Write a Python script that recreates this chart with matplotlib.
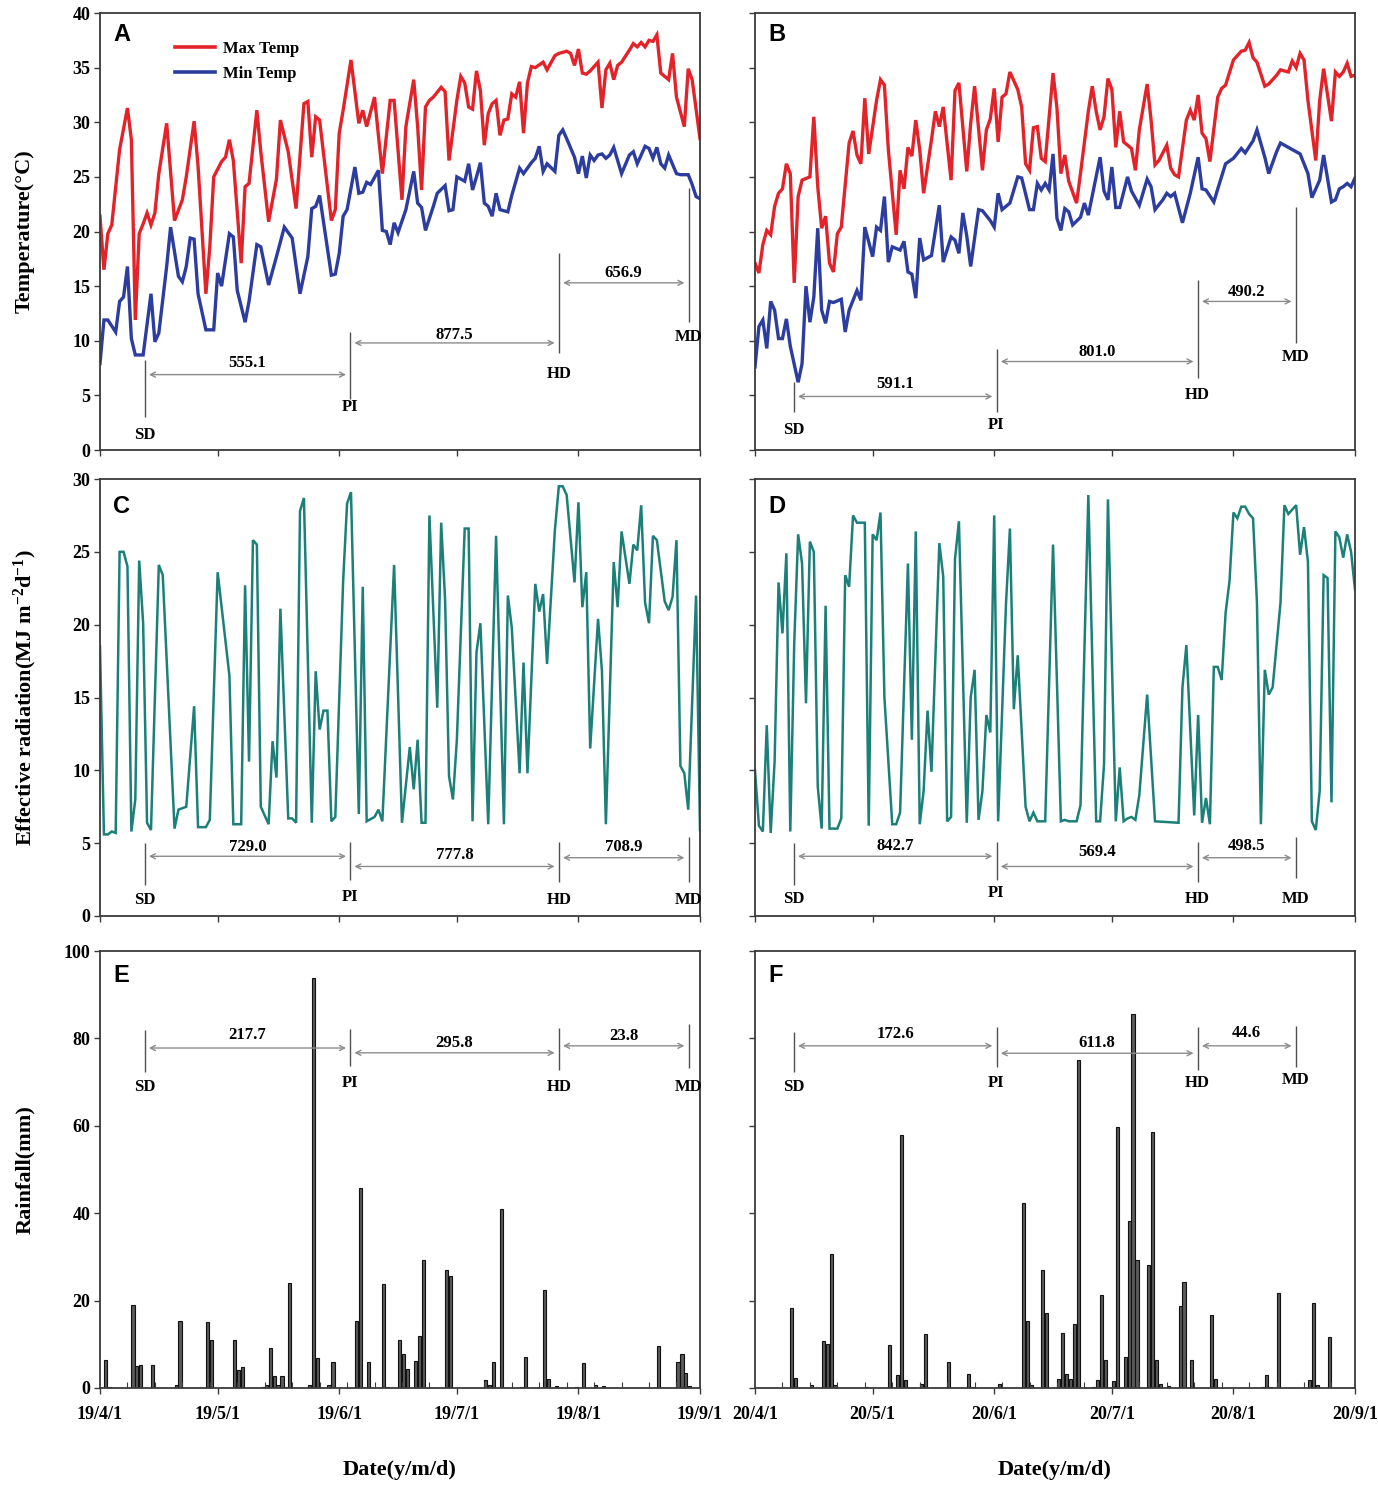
import numpy as np
import pandas as pd
import matplotlib
matplotlib.use('Agg')
import matplotlib.pyplot as plt
import matplotlib.dates as mdates
from matplotlib.lines import Line2D

# ---------------- data (day offset from 1 April, value) ----------------
tmax_2019 = [(0, 21.4), (1, 16.5), (2, 19.8), (3, 20.6), (5, 27.5), (7, 31.3), (8, 28.4), (9, 11.9), (10, 19.8),
             (11, 20.7), (12, 21.7), (13, 20.6), (14, 21.7), (15, 25.3), (17, 29.9), (19, 21.0), (21, 22.9),
             (22, 25.0), (24, 30.1), (25, 26.0), (27, 14.3), (28, 18.6), (29, 25.0), (31, 26.4), (32, 26.8),
             (33, 28.4), (34, 26.5), (36, 17.1), (37, 24.1), (38, 24.4), (40, 31.1), (41, 27.3), (43, 20.9),
             (45, 24.8), (46, 30.2), (48, 27.3), (50, 22.1), (52, 31.7), (53, 31.9), (54, 26.8), (55, 30.5),
             (56, 30.2), (59, 21.0), (60, 22.0), (61, 29.0), (62, 31.1), (64, 35.7), (66, 29.9), (67, 31.1),
             (68, 29.6), (70, 32.3), (72, 25.3), (74, 32.0), (75, 32.0), (77, 22.9), (78, 29.6), (80, 33.9),
             (81, 29.6), (82, 23.8), (83, 31.4), (84, 32.0), (85, 32.3), (87, 33.2), (88, 32.8), (89, 26.5),
             (91, 32.0), (92, 34.2), (93, 33.6), (94, 31.4), (95, 31.2), (96, 34.7), (97, 32.9), (98, 27.9),
             (99, 30.8), (100, 31.7), (101, 32.0), (102, 28.8), (103, 30.2), (104, 30.3), (105, 32.6),
             (106, 32.3), (107, 33.7), (108, 29.0), (109, 33.6), (110, 35.1), (111, 35.0), (113, 35.5),
             (114, 34.8), (116, 36.1), (117, 36.3), (119, 36.5), (120, 36.3), (121, 35.2), (122, 36.7),
             (123, 34.5), (124, 34.4), (125, 34.7), (127, 35.5), (128, 31.3), (129, 34.8), (130, 35.4),
             (131, 33.9), (132, 35.2), (133, 35.5), (135, 36.6), (136, 37.2), (137, 36.9), (138, 37.3),
             (139, 36.9), (140, 37.5), (141, 37.4), (142, 38.0), (143, 34.5), (145, 33.9), (146, 36.3),
             (147, 32.3), (149, 29.6), (150, 34.9), (151, 33.9), (153, 28.5)]
tmin_2019 = [(0, 7.9), (1, 11.9), (2, 11.9), (4, 10.8), (5, 13.6), (6, 14.0), (7, 16.8), (8, 10.2), (9, 8.7),
             (11, 8.7), (13, 14.3), (14, 9.9), (15, 10.7), (17, 16.8), (18, 20.4), (20, 15.9), (21, 15.4),
             (22, 16.8), (23, 19.4), (24, 19.3), (25, 14.3), (27, 11.0), (29, 11.0), (30, 16.2), (31, 15.0),
             (33, 19.8), (34, 19.5), (35, 14.6), (37, 11.7), (38, 13.6), (40, 18.8), (41, 18.6), (43, 15.1),
             (45, 17.7), (47, 20.4), (49, 19.4), (51, 14.3), (53, 17.7), (54, 22.1), (55, 22.3), (56, 23.3),
             (59, 16.0), (60, 16.1), (61, 18.0), (62, 21.4), (63, 22.0), (65, 25.9), (66, 23.5), (67, 23.6),
             (68, 24.5), (69, 24.3), (71, 25.6), (72, 20.1), (73, 20.0), (74, 18.8), (75, 20.8), (76, 19.9),
             (78, 22.0), (80, 25.5), (81, 22.6), (82, 22.2), (83, 20.1), (85, 22.3), (86, 23.5), (88, 24.2),
             (89, 21.9), (90, 22.0), (91, 25.0), (93, 24.6), (94, 26.2), (95, 23.8), (96, 25.0), (97, 26.3),
             (98, 22.6), (99, 22.3), (100, 21.4), (101, 23.5), (102, 22.0), (104, 21.8), (105, 23.3),
             (107, 25.8), (108, 25.3), (110, 26.3), (111, 26.7), (112, 27.8), (113, 25.5), (114, 26.2),
             (116, 25.5), (117, 28.8), (118, 29.3), (119, 28.5), (121, 26.8), (122, 25.3), (123, 26.9),
             (124, 24.9), (125, 27.0), (126, 26.5), (127, 27.0), (128, 27.1), (129, 26.7), (130, 27.0),
             (131, 27.7), (133, 25.3), (135, 27.0), (136, 27.3), (137, 26.2), (139, 27.8), (140, 27.6),
             (141, 26.7), (142, 27.7), (143, 26.2), (144, 25.8), (145, 27.0), (147, 25.3), (148, 25.2),
             (150, 25.2), (151, 24.3), (152, 23.2), (153, 23.0)]
tmax_2020 = [(0, 17.1), (1, 16.2), (2, 18.8), (3, 20.1), (4, 19.7), (5, 22.3), (6, 23.5), (7, 23.9), (8, 26.2),
             (9, 25.3), (10, 15.3), (11, 23.2), (12, 24.7), (14, 25.0), (15, 30.5), (16, 24.1), (17, 20.3),
             (18, 21.4), (19, 17.1), (20, 16.3), (21, 19.8), (22, 20.4), (24, 28.1), (25, 29.2), (26, 27.0),
             (27, 26.2), (28, 32.2), (29, 27.1), (31, 32.0), (32, 33.9), (33, 33.4), (34, 27.5), (36, 19.7),
             (37, 25.6), (38, 23.9), (39, 27.7), (40, 26.9), (41, 30.2), (42, 27.5), (43, 23.5), (45, 28.4),
             (46, 31.0), (47, 29.6), (48, 31.4), (50, 24.7), (51, 32.9), (52, 33.6), (54, 25.5), (55, 29.9),
             (56, 33.3), (58, 25.6), (59, 29.3), (60, 30.3), (61, 33.1), (62, 28.2), (63, 32.3), (64, 32.6),
             (65, 34.6), (67, 33.0), (68, 31.4), (69, 26.2), (70, 25.6), (71, 29.5), (72, 29.6), (73, 26.7),
             (74, 26.4), (76, 34.5), (77, 31.3), (78, 25.3), (79, 27.0), (80, 24.6), (82, 22.6), (83, 25.3),
             (85, 31.0), (86, 33.3), (87, 31.0), (88, 29.3), (89, 30.5), (90, 34.0), (91, 33.0), (92, 27.7),
             (93, 31.0), (94, 28.2), (96, 27.6), (97, 25.6), (98, 29.3), (100, 33.5), (101, 30.2), (102, 26.1),
             (103, 26.5), (105, 27.9), (106, 25.8), (107, 25.2), (108, 25.0), (110, 30.2), (111, 31.1),
             (112, 30.2), (113, 32.5), (114, 29.0), (115, 28.5), (116, 26.4), (118, 32.3), (119, 33.1),
             (120, 33.4), (122, 35.7), (124, 36.5), (125, 36.6), (126, 37.3), (127, 35.9), (128, 35.5),
             (130, 33.3), (131, 33.5), (133, 34.3), (134, 34.8), (136, 34.6), (137, 35.6), (138, 35.0),
             (139, 36.3), (140, 35.7), (141, 32.0), (143, 26.5), (144, 32.0), (145, 34.9), (147, 30.1),
             (148, 34.6), (149, 34.2), (150, 34.6), (151, 35.4), (152, 34.2), (153, 34.3)]
tmin_2020 = [(0, 7.6), (1, 11.3), (2, 11.9), (3, 9.3), (4, 13.6), (5, 12.8), (6, 10.2), (7, 10.2), (8, 12.0),
             (9, 9.5), (11, 6.2), (12, 7.9), (13, 15.0), (14, 11.7), (15, 14.0), (16, 20.3), (17, 12.8),
             (18, 11.6), (19, 13.6), (20, 13.5), (22, 13.8), (23, 10.8), (24, 12.8), (26, 14.6), (27, 13.7),
             (28, 20.4), (30, 17.7), (31, 20.4), (32, 20.1), (33, 23.2), (34, 17.2), (35, 18.6), (37, 18.3),
             (38, 19.1), (39, 16.3), (40, 16.1), (41, 13.9), (42, 19.4), (43, 17.4), (45, 17.8), (47, 22.4),
             (48, 17.2), (50, 19.5), (51, 19.2), (52, 18.0), (53, 21.7), (54, 19.6), (55, 16.8), (57, 22.0),
             (58, 21.9), (60, 21.0), (61, 20.4), (62, 23.5), (63, 22.0), (65, 22.6), (67, 25.0), (68, 24.9),
             (70, 22.0), (71, 22.0), (72, 24.4), (73, 23.8), (74, 24.4), (75, 23.8), (76, 27.1), (77, 21.2),
             (78, 20.1), (79, 22.1), (80, 21.8), (81, 20.6), (83, 21.3), (84, 22.6), (85, 21.5), (88, 26.8),
             (89, 23.7), (90, 22.9), (91, 25.9), (92, 22.2), (93, 22.2), (95, 25.0), (96, 23.7), (98, 22.4),
             (100, 24.8), (101, 24.1), (102, 22.0), (104, 22.9), (105, 23.5), (106, 23.2), (107, 23.5),
             (109, 20.8), (111, 23.5), (113, 26.8), (114, 23.9), (115, 23.8), (117, 22.7), (118, 23.9),
             (120, 26.2), (122, 26.7), (124, 27.6), (125, 27.2), (127, 28.3), (128, 29.3), (130, 26.8),
             (131, 25.3), (133, 27.3), (134, 28.1), (137, 27.5), (139, 27.1), (141, 25.3), (142, 23.1),
             (144, 24.7), (145, 27.0), (147, 22.7), (148, 22.9), (149, 23.9), (150, 24.1), (151, 24.4),
             (152, 24.1), (153, 24.9)]
rad_2019 = [(0, 18.5), (1, 5.6), (2, 5.6), (3, 5.8), (4, 5.7), (5, 25.0), (6, 25.0), (7, 24.0), (8, 5.8), (9, 8.0),
            (10, 24.4), (11, 20.1), (12, 6.4), (13, 5.9), (15, 24.1), (16, 23.4), (19, 6.0), (20, 7.3), (22, 7.5),
            (24, 14.4), (25, 6.1), (27, 6.1), (28, 6.6), (30, 23.6), (33, 16.5), (34, 6.3), (36, 6.3), (37, 22.7),
            (38, 10.6), (39, 25.8), (40, 25.5), (41, 7.5), (43, 6.3), (44, 12.0), (45, 9.5), (46, 21.1),
            (48, 6.7), (49, 6.7), (50, 6.4), (51, 27.8), (52, 28.7), (54, 6.4), (55, 16.8), (56, 12.8),
            (57, 14.1), (58, 14.1), (59, 6.5), (60, 6.8), (62, 23.0), (63, 28.3), (64, 29.1), (66, 7.0),
            (67, 22.6), (68, 6.5), (70, 6.8), (71, 7.3), (72, 6.5), (75, 24.1), (77, 6.4), (79, 11.6),
            (80, 8.7), (81, 12.1), (82, 6.4), (83, 6.4), (84, 27.5), (86, 14.3), (87, 27.0), (88, 21.7),
            (89, 9.6), (90, 8.0), (91, 12.1), (93, 26.6), (94, 26.6), (95, 6.5), (96, 18.1), (97, 20.1),
            (99, 6.3), (101, 26.1), (103, 6.3), (104, 22.0), (105, 19.8), (107, 9.8), (108, 17.4), (109, 9.8),
            (111, 22.8), (112, 20.9), (113, 22.1), (114, 17.3), (116, 26.5), (117, 29.5), (118, 29.5),
            (119, 28.9), (121, 22.9), (122, 28.4), (123, 21.2), (124, 23.6), (125, 11.5), (127, 20.4),
            (128, 16.8), (129, 6.3), (131, 24.3), (132, 21.2), (133, 26.4), (135, 22.8), (136, 25.5),
            (137, 25.1), (138, 28.2), (139, 21.5), (140, 20.1), (141, 26.1), (142, 25.8), (144, 21.6),
            (145, 21.0), (146, 21.9), (147, 25.8), (148, 10.3), (149, 9.8), (150, 7.3), (152, 22.0), (153, 5.9)]
rad_2020 = [(0, 10.0), (1, 6.2), (2, 5.8), (3, 13.1), (4, 5.7), (5, 10.6), (6, 22.9), (7, 19.4), (8, 24.9),
            (9, 5.8), (10, 18.7), (11, 26.2), (12, 24.2), (13, 14.6), (14, 25.7), (15, 25.0), (16, 8.9),
            (17, 6.0), (18, 21.3), (19, 6.0), (21, 6.0), (22, 6.7), (23, 23.4), (24, 22.6), (25, 27.5),
            (26, 27.0), (28, 27.0), (29, 6.2), (30, 26.2), (31, 25.8), (32, 27.7), (33, 15.0), (35, 6.3),
            (36, 6.3), (37, 7.1), (39, 24.2), (40, 12.1), (41, 26.4), (42, 6.3), (43, 8.6), (44, 14.1),
            (45, 9.9), (47, 25.6), (48, 23.3), (49, 6.5), (50, 6.8), (51, 24.5), (52, 27.1), (54, 6.4),
            (55, 15.0), (56, 16.9), (57, 6.6), (58, 8.6), (59, 13.8), (60, 12.6), (61, 27.5), (62, 6.5),
            (64, 21.4), (65, 26.6), (66, 14.2), (67, 17.9), (69, 7.5), (70, 6.5), (71, 7.1), (72, 6.5),
            (74, 6.5), (76, 25.5), (78, 6.5), (79, 6.6), (80, 6.5), (82, 6.5), (83, 7.6), (85, 28.9), (87, 6.5),
            (88, 6.5), (89, 10.4), (90, 28.6), (92, 6.5), (93, 10.2), (94, 6.5), (95, 6.7), (96, 6.8), (97, 6.6),
            (98, 8.3), (100, 15.2), (102, 6.5), (108, 6.4), (109, 15.7), (110, 18.6), (112, 6.9), (113, 13.8),
            (114, 6.4), (115, 8.1), (116, 6.3), (117, 17.1), (118, 17.1), (119, 16.2), (120, 20.8),
            (121, 23.0), (122, 27.7), (123, 27.3), (124, 28.1), (125, 28.1), (126, 27.6), (127, 27.3),
            (128, 21.5), (129, 6.3), (130, 16.9), (131, 15.2), (132, 15.7), (134, 21.5), (135, 28.2),
            (136, 27.6), (138, 28.2), (139, 24.8), (140, 26.7), (141, 24.3), (142, 6.5), (143, 5.9),
            (144, 8.6), (145, 23.4), (146, 23.2), (147, 7.8), (148, 26.4), (149, 26.0), (150, 24.6),
            (151, 26.2), (152, 25.0), (153, 22.4)]
rain_2019 = [(1, 6.4), (2, 0.3), (8, 19.0), (9, 5.0), (10, 5.3), (13, 5.3), (19, 0.8), (20, 15.4), (27, 15.0),
             (28, 11.0), (34, 11.0), (35, 4.1), (36, 4.7), (41, 0.3), (42, 0.8), (43, 9.2), (44, 2.8), (45, 0.8),
             (46, 2.8), (47, 0.3), (48, 24.1), (53, 0.6), (54, 93.8), (55, 6.9), (58, 0.6), (59, 5.9), (65, 15.3),
             (66, 45.7), (68, 5.9), (72, 23.8), (73, 0.3), (76, 11.0), (77, 7.7), (78, 4.4), (80, 6.2), (81, 11.8),
             (82, 29.4), (88, 26.9), (89, 25.6), (98, 1.9), (99, 0.8), (100, 5.9), (102, 40.9), (107, 0.3),
             (108, 7.2), (113, 22.4), (114, 2.1), (116, 0.5), (121, 0.3), (123, 5.7), (126, 0.8), (128, 0.5),
             (142, 9.6), (147, 5.9), (148, 7.7), (149, 3.4), (150, 0.5)]
rain_2020 = [(9, 18.4), (10, 2.2), (14, 0.8), (17, 10.8), (18, 10.1), (19, 30.7), (20, 0.8), (28, 0.3), (34, 9.9),
             (36, 3.0), (37, 58.0), (38, 1.9), (42, 0.9), (43, 12.4), (49, 6.0), (54, 3.1), (55, 0.2), (62, 0.9),
             (68, 42.3), (69, 15.3), (70, 0.6), (73, 27.1), (74, 17.1), (77, 2.1), (78, 12.5), (79, 3.2), (80, 2.1),
             (81, 14.6), (82, 75.1), (86, 0.2), (87, 1.9), (88, 21.3), (89, 6.3), (91, 1.6), (92, 59.8), (94, 7.2),
             (95, 38.3), (96, 85.6), (97, 29.3), (100, 28.2), (101, 58.6), (102, 6.3), (103, 0.9), (105, 0.5),
             (108, 18.8), (109, 24.3), (111, 6.4), (116, 16.8), (117, 2.0), (129, 0.3), (130, 3.0), (131, 0.2),
             (133, 21.7), (141, 1.9), (142, 19.4), (143, 0.6), (146, 11.6)]

# growth stages (day offset from 1 April) and accumulated values between stages
stage_names = ['SD', 'PI', 'HD', 'MD']
stage_day_2019 = [11.4, 63.8, 117.0, 150.1]
stage_day_2020 = [9.9, 61.6, 112.9, 137.9]
gdd_2019 = [555.1, 877.5, 656.9]
gdd_2020 = [591.1, 801.0, 490.2]
radsum_2019 = [729.0, 777.8, 708.9]
radsum_2020 = [842.7, 569.4, 498.5]
rainsum_2019 = [217.7, 295.8, 23.8]
rainsum_2020 = [172.6, 611.8, 44.6]

# ---------------- style ----------------
plt.rcParams['font.family'] = ['Liberation Serif', 'DejaVu Serif']
plt.rcParams['font.weight'] = 'bold'
plt.rcParams['mathtext.fontset'] = 'custom'
plt.rcParams['mathtext.rm'] = 'Liberation Serif:bold'
plt.rcParams['mathtext.it'] = 'Liberation Serif:bold'
plt.rcParams['mathtext.bf'] = 'Liberation Serif:bold'

RED = '#e3232a'
BLUE = '#2c3c9f'
TEAL = '#1c8079'
SPINE = '#3a3a3a'

W, H = 1378, 1486
fig = plt.figure(figsize=(W / 100, H / 100), dpi=100)


def add_ax(x0, y0, x1, y1):
    return fig.add_axes([x0 / W, 1 - y1 / H, (x1 - x0) / W, (y1 - y0) / H])


def unpack(series, year):
    start = mdates.date2num(pd.Timestamp(f'{year}-04-01'))
    d = np.array([p[0] for p in series], dtype=float)
    v = np.array([p[1] for p in series])
    return start + d, v


def style(ax, year, ymax, ystep, ylabels, xlabels, minor=False):
    start = pd.Timestamp(f'{year}-04-01')
    months = pd.date_range(start, f'{year}-09-01', freq='MS')
    ax.set_xlim(mdates.date2num(months[0]), mdates.date2num(months[-1]))
    ax.set_ylim(0, ymax)
    ax.set_xticks(mdates.date2num(months))
    if xlabels:
        ax.set_xticklabels([f'{m:%y}/{m.month}/{m.day}' for m in months])
    else:
        ax.set_xticklabels([])
    ax.set_yticks(np.arange(0, ymax + 0.1, ystep))
    ax.tick_params(axis='both', direction='out', length=4, width=1.0, color=SPINE, labelsize=13)
    ax.tick_params(axis='x', pad=9)
    ax.tick_params(axis='y', pad=3)
    if not ylabels:
        ax.tick_params(axis='y', labelleft=False)
    if minor:
        mins = [mdates.date2num(start) + d for d in range(7, 153, 7)]
        ax.set_xticks(mins, minor=True)
        ax.tick_params(axis='x', which='minor', direction='in', length=4, width=0.8, color=SPINE)
    for s in ax.spines.values():
        s.set_color(SPINE)
        s.set_linewidth(1.3)


def stages(ax, year, sdays, sums, lines, labs, arrows, vals):
    start = mdates.date2num(pd.Timestamp(f'{year}-04-01'))
    xs = [start + d for d in sdays]
    for x, (ya, yb), ly, name in zip(xs, lines, labs, stage_names):
        ax.vlines(x, ya, yb, color='#505050', lw=1.0)
        ax.text(x, ly, name, ha='center', va='center', fontsize=12)
    for i in range(3):
        ax.annotate('', xy=(xs[i + 1], arrows[i]), xytext=(xs[i], arrows[i]),
                    arrowprops=dict(arrowstyle='<->', color='#8c8c8c', lw=1.0,
                                    shrinkA=3, shrinkB=3, mutation_scale=9))
        ax.text((xs[i] + xs[i + 1]) / 2, vals[i], f'{sums[i]:.1f}', ha='center', va='center', fontsize=12)


def letter(ax, s, y):
    ax.text(0.022, y, s, transform=ax.transAxes, ha='left', va='center',
            fontsize=17, fontweight='bold', family=['Liberation Sans', 'DejaVu Sans'])


axA = add_ax(100, 13, 700, 450)
axB = add_ax(755, 13, 1355, 450)
axC = add_ax(100, 479, 700, 916)
axD = add_ax(755, 479, 1355, 916)
axE = add_ax(100, 951, 700, 1388)
axF = add_ax(755, 951, 1355, 1388)

# temperature
for ax, year, tmax, tmin in [(axA, 2019, tmax_2019, tmin_2019), (axB, 2020, tmax_2020, tmin_2020)]:
    x, y = unpack(tmax, year)
    ax.plot(x, y, color=RED, lw=2.4, solid_joinstyle='miter')
    x, y = unpack(tmin, year)
    ax.plot(x, y, color=BLUE, lw=2.4, solid_joinstyle='miter')
    style(ax, year, 40, 5, ax is axA, False)

handles = [Line2D([], [], color=RED, lw=2.6), Line2D([], [], color=BLUE, lw=2.6)]
axA.legend(handles, ['Max Temp', 'Min Temp'], loc='upper left', bbox_to_anchor=(0.125, 0.937),
           frameon=False, fontsize=12, handlelength=2.4, handletextpad=0.5,
           borderpad=0, borderaxespad=0, labelspacing=0.55)

stages(axA, 2019, stage_day_2019, gdd_2019,
       [(3.0, 8.2), (4.7, 10.8), (8.9, 18.0), (11.7, 24.0)], [1.4, 3.9, 7.0, 10.3],
       [6.9, 9.8, 15.3], [8.0, 10.5, 16.2])
stages(axB, 2020, stage_day_2020, gdd_2020,
       [(3.5, 6.2), (3.5, 9.2), (6.6, 15.6), (9.8, 22.2)], [1.8, 2.3, 5.0, 8.5],
       [4.9, 8.1, 13.6], [6.0, 9.0, 14.5])

# radiation
for ax, year, rad in [(axC, 2019, rad_2019), (axD, 2020, rad_2020)]:
    x, y = unpack(rad, year)
    ax.plot(x, y, color=TEAL, lw=1.8, solid_joinstyle='miter')
    style(ax, year, 30, 5, ax is axC, False)

stages(axC, 2019, stage_day_2019, radsum_2019,
       [(2.1, 5.0), (2.5, 5.1), (2.3, 5.1), (2.3, 5.4)], [1.1, 1.3, 1.1, 1.1],
       [4.1, 3.4, 4.0], [4.75, 4.2, 4.75])
stages(axD, 2020, stage_day_2020, radsum_2020,
       [(2.1, 5.0), (2.5, 5.1), (2.3, 5.1), (2.6, 5.4)], [1.2, 1.6, 1.2, 1.2],
       [4.1, 3.4, 4.0], [4.8, 4.4, 4.8])

# rainfall
for ax, year, rain in [(axE, 2019, rain_2019), (axF, 2020, rain_2020)]:
    x, y = unpack(rain, year)
    ax.bar(x, y, width=0.8, align='edge', color='#5a5a5a', edgecolor='#111111', linewidth=0.8)
    style(ax, year, 100, 20, ax is axE, True, minor=True)

stages(axE, 2019, stage_day_2019, rainsum_2019,
       [(72.3, 81.9), (73.7, 82.1), (72.8, 82.4), (73.2, 83.3)], [68.9, 69.8, 68.9, 68.9],
       [77.8, 76.7, 78.3], [80.8, 78.9, 80.5])
stages(axF, 2020, stage_day_2020, rainsum_2020,
       [(72.3, 81.5), (73.5, 82.6), (72.8, 82.6), (73.5, 82.9)], [68.9, 69.8, 69.8, 70.5],
       [78.3, 76.6, 78.3], [81.0, 79.0, 81.2])

for ax, s, y in [(axA, 'A', 0.950), (axB, 'B', 0.950), (axC, 'C', 0.936),
                 (axD, 'D', 0.936), (axE, 'E', 0.945), (axF, 'F', 0.945)]:
    letter(ax, s, y)

fig.text(25 / W, 1 - 231.5 / H, 'Temperature(°C)', rotation=90, ha='center', va='center', fontsize=16)
fig.text(25 / W, 1 - 697.5 / H, r'Effective radiation(MJ m$^{-2}$d$^{-1}$)', rotation=90,
         ha='center', va='center', fontsize=16)
fig.text(25 / W, 1 - 1169.5 / H, 'Rainfall(mm)', rotation=90, ha='center', va='center', fontsize=16)
fig.text(400 / W, 1 - 1470 / H, 'Date(y/m/d)', ha='center', va='center', fontsize=16)
fig.text(1055 / W, 1 - 1470 / H, 'Date(y/m/d)', ha='center', va='center', fontsize=16)

fig.savefig('out.png', dpi=100)
